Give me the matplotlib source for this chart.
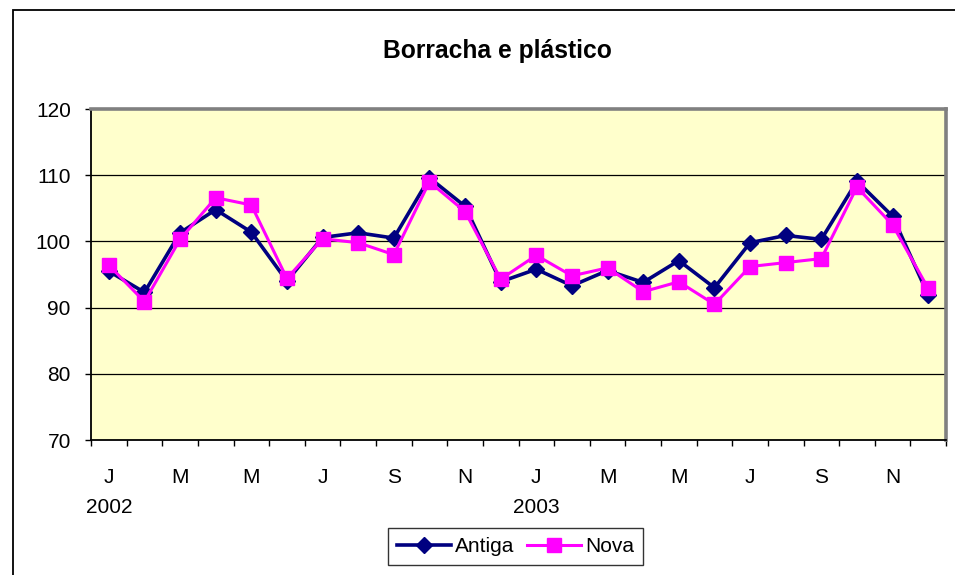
import numpy as np
import matplotlib
matplotlib.use("Agg")
import matplotlib.pyplot as plt
from matplotlib.patches import Rectangle

plt.rcParams['font.family'] = ['Liberation Sans', 'DejaVu Sans']

# monthly index, Jan 2002 .. Dec 2003
months = ["J", "F", "M", "A", "M", "J", "J", "A", "S", "O", "N", "D"] * 2
years = ["2002", "2003"]
antiga = [95.5, 92.3, 101.3, 104.8, 101.4, 94.0, 100.6, 101.3, 100.5, 109.6, 105.3, 93.9,
          95.8, 93.3, 95.6, 93.8, 97.1, 93.0, 99.8, 100.9, 100.3, 109.1, 103.8, 91.9]
nova = [96.4, 90.9, 100.3, 106.6, 105.5, 94.4, 100.4, 99.8, 98.0, 109.0, 104.5, 94.3,
        97.9, 94.8, 96.0, 92.4, 93.9, 90.5, 96.2, 96.8, 97.4, 108.2, 102.5, 92.9]

W, H = 955, 575
fig = plt.figure(figsize=(W / 100, H / 100), dpi=100)
ax = fig.add_axes([91 / W, 1 - 440 / H, (946 - 91) / W, (440 - 109) / H])
ax.set_facecolor("#FFFFCC")

x = np.arange(len(antiga))
ax.plot(x, antiga, "-D", color="#000080", lw=2.6, ms=8, label="Antiga", zorder=3)
ax.plot(x, nova, "-s", color="#FF00FF", lw=2.2, ms=10.5, label="Nova", zorder=4)

ax.set_xlim(-0.5, len(x) - 0.5)
ax.set_ylim(70, 120)
ax.set_yticks(range(70, 121, 10))
for v in range(80, 120, 10):
    ax.axhline(v, color="black", lw=0.9, zorder=1)

# tick marks between categories, labels every second month
ax.set_xticks(np.arange(-0.5, len(x), 1))
ax.set_xticklabels([])
ax.tick_params(axis="x", which="major", direction="out", length=4.5, width=1, color="black")
pos = x[::2]
labs = []
for i in pos:
    lab = months[i]
    if i % 12 == 0:
        lab += "\n" + years[i // 12]
    labs.append(lab)
ax.set_xticks(pos, labs, minor=True)
ax.tick_params(axis="x", which="minor", length=0, pad=20, labelsize=15)
for t in ax.get_xticklabels(minor=True):
    t.set_linespacing(1.75)
ax.tick_params(axis="y", direction="out", length=4.5, width=1, pad=10, labelsize=15)

for s in ["left", "bottom"]:
    ax.spines[s].set_color("black")
    ax.spines[s].set_linewidth(1.3)
for s in ["top", "right"]:
    ax.spines[s].set_color("#808080")
    ax.spines[s].set_linewidth(2.6)

fig.text(497 / W, 1 - 51 / H, "Borracha e plástico", ha="center", va="center",
         fontsize=17.7, fontweight="bold")

leg = fig.legend(loc="center", bbox_to_anchor=(515.5 / W, 1 - 546.5 / H), ncol=2,
                 fontsize=15, frameon=True, fancybox=False, handlelength=2.6,
                 handletextpad=0.2, columnspacing=0.6, borderpad=0.42,
                 borderaxespad=0)
leg.get_frame().set_edgecolor("black")
leg.get_frame().set_linewidth(1.0)

# outer chart border (runs off right and bottom edges)
fig.patches.append(Rectangle((13 / W, -0.05), 1.1, 1 - 10 / H + 0.05,
                             transform=fig.transFigure, fill=False,
                             edgecolor="black", lw=1.3))

fig.savefig("out.png", dpi=100)
